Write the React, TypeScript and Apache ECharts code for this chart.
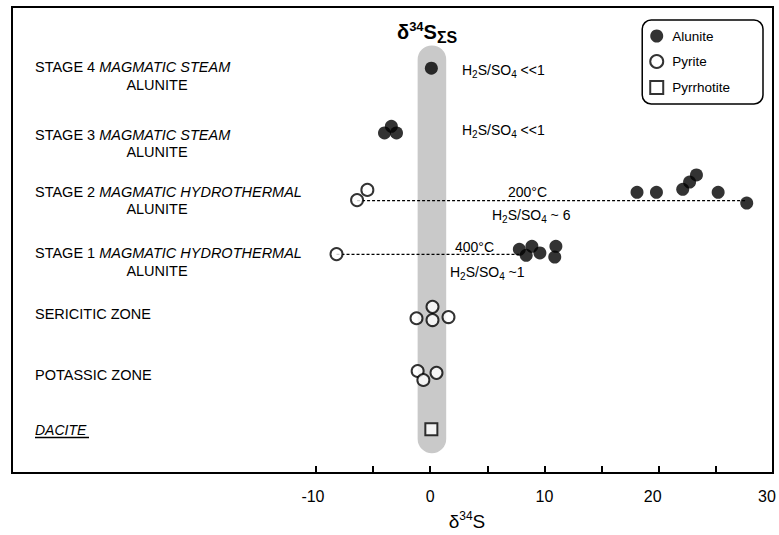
import React, { useEffect, useRef } from 'react';
import * as echarts from 'echarts';

const FONT = '"Liberation Sans", Arial, Helvetica, sans-serif';

// x-axis ticks and labels (δ34S, per mil)
const xTickValues = [-10, -5, 0, 5, 10, 15, 20, 25];
const xLabelValues = [-10, 0, 10, 20, 30];

// y is a row coordinate: each sample row (Dacite bottom ... Stage 4 top) with its small vertical stacking offsets
const alunite: [number, number][] = [
  [0.1, 6.75],
  [-4.0, 5.67], [-3.4, 5.78], [-2.95, 5.67],
  [18.1, 4.68], [19.8, 4.68], [22.1, 4.73], [22.7, 4.85], [23.3, 4.97], [25.2, 4.68], [27.7, 4.5],
  [7.8, 3.73], [8.4, 3.63], [8.9, 3.78], [9.6, 3.67], [11.0, 3.78], [10.9, 3.6],
];
const pyrite: [number, number][] = [
  [-6.4, 4.55], [-5.5, 4.72],
  [-8.2, 3.65],
  [-1.2, 2.58], [0.2, 2.77], [0.2, 2.55], [1.6, 2.6],
  [-1.1, 1.7], [-0.6, 1.55], [0.55, 1.67],
];
const pyrrhotite: [number, number][] = [[0.1, 0.73]];
const tie200: [number, number][] = [[-6.4, 4.54], [27.7, 4.54]];
const tie400: [number, number][] = [[-8.2, 3.645], [7.8, 3.645]];
// δ34S of total sulfur band: [xMin, yMin, xMax, yMax]
const sumSBand: number[][] = [[-1.1, 0.33, 1.4, 7.13]];

const rowLabels = [
  { n: 'STAGE 4 ', i: 'MAGMATIC STEAM', y: 67, sub: 85 },
  { n: 'STAGE 3 ', i: 'MAGMATIC STEAM', y: 135, sub: 152 },
  { n: 'STAGE 2 ', i: 'MAGMATIC HYDROTHERMAL', y: 192, sub: 209 },
  { n: 'STAGE 1 ', i: 'MAGMATIC HYDROTHERMAL', y: 253, sub: 271 },
  { n: 'SERICITIC ZONE', i: '', y: 314, sub: 0 },
  { n: 'POTASSIC ZONE', i: '', y: 375, sub: 0 },
];

const ratioRich = {
  t: { fontSize: 14, fontFamily: FONT, color: '#000', lineHeight: 19, verticalAlign: 'middle' },
  s: { fontSize: 10, fontFamily: FONT, color: '#000', verticalAlign: 'bottom' },
};

function ratioText(x: number, y: number, tail: string) {
  return {
    type: 'text',
    x,
    y,
    style: {
      text: `{t|H}{s|2}{t|S/SO}{s|4}{t|${tail}}`,
      rich: ratioRich,
      verticalAlign: 'middle',
      align: 'left',
      fill: '#000',
    },
  };
}

function plainText(x: number, y: number, text: string, size = 14, align = 'left') {
  return {
    type: 'text',
    x,
    y,
    style: { text, font: `${size}px ${FONT}`, fill: '#000', align, verticalAlign: 'middle' },
  };
}

export default function App() {
  const ref = useRef<HTMLDivElement>(null);

  useEffect(() => {
    if (!ref.current) return;
    const chart = echarts.init(ref.current, null, { renderer: 'svg' });

    const graphics: any[] = [];
    rowLabels.forEach((r) => {
      graphics.push({
        type: 'text',
        x: 35,
        y: r.y,
        style: {
          text: r.i ? `{n|${r.n}}{i|${r.i}}` : `{n|${r.n}}`,
          rich: {
            n: { fontSize: 14.5, fontFamily: FONT, color: '#000' },
            i: { fontSize: 14.5, fontFamily: FONT, fontStyle: 'italic', color: '#000' },
          },
          align: 'left',
          verticalAlign: 'middle',
        },
      });
      if (r.sub) graphics.push(plainText(157, r.sub, 'ALUNITE', 14.5, 'center'));
    });
    graphics.push({
      type: 'text',
      x: 35,
      y: 430,
      style: { text: 'DACITE', font: `italic 14px ${FONT}`, fill: '#000', align: 'left', verticalAlign: 'middle' },
    });
    graphics.push({ type: 'line', shape: { x1: 35, y1: 437.5, x2: 89, y2: 437.5 }, style: { stroke: '#000', lineWidth: 1.5 } });

    graphics.push(ratioText(462, 70, ' <<1'));
    graphics.push(ratioText(462, 130, ' <<1'));
    graphics.push(plainText(508, 192, '200°C'));
    graphics.push(ratioText(492, 215, ' ~ 6'));
    graphics.push(plainText(455, 247, '400°C'));
    graphics.push(ratioText(450, 272, ' ~1'));

    // title δ34SΣS
    graphics.push({
      type: 'text',
      x: 397,
      y: 32,
      style: {
        text: '{b|δ}{p|34}{b|S}{q|ΣS}',
        rich: {
          b: { fontSize: 20, fontWeight: 'bold', fontFamily: FONT, color: '#000', lineHeight: 26, verticalAlign: 'middle' },
          p: { fontSize: 13, fontWeight: 'bold', fontFamily: FONT, color: '#000', verticalAlign: 'top', padding: [1, 0, 0, 0] },
          q: { fontSize: 16, fontWeight: 'bold', fontFamily: FONT, color: '#000', verticalAlign: 'bottom' },
        },
        align: 'left',
        verticalAlign: 'middle',
      },
    });
    // x axis name δ34S
    graphics.push({
      type: 'text',
      x: 467,
      y: 521,
      style: {
        text: '{b|δ}{p|34}{b|S}',
        rich: {
          b: { fontSize: 19, fontFamily: FONT, color: '#000', lineHeight: 24, verticalAlign: 'middle' },
          p: { fontSize: 12, fontFamily: FONT, color: '#000', verticalAlign: 'top', padding: [1, 0, 0, 0] },
        },
        align: 'center',
        verticalAlign: 'middle',
      },
    });

    const symStyleOpen = { color: '#fff', borderColor: '#000', borderWidth: 2 };
    const lblStyle = { fontSize: 16, fontFamily: FONT, color: '#000' };

    chart.setOption({
      animation: false,
      backgroundColor: '#fff',
      grid: {
        left: 12, right: 6, top: 7, bottom: 62,
        show: true, borderColor: '#000', borderWidth: 2, backgroundColor: 'transparent',
        containLabel: false, outerBoundsMode: 'none',
      },
      xAxis: {
        type: 'value',
        min: -36.6,
        max: 30,
        axisLine: { show: true, lineStyle: { color: '#000', width: 2 } },
        axisTick: { show: true, inside: true, length: 7, customValues: xTickValues, lineStyle: { color: '#000', width: 2 } },
        axisLabel: {
          show: true,
          customValues: xLabelValues,
          color: '#000',
          fontSize: 16,
          fontFamily: FONT,
          margin: 15,
          formatter: (v: number) => (v >= 20 ? `{r|${v}}` : v < 0 ? `{m|${v}}` : `${v}`),
          rich: {
            r: { ...lblStyle, padding: [0, 12, 0, 0] },
            m: { ...lblStyle, padding: [0, 6, 0, 0] },
          },
        },
        splitLine: { show: false },
      },
      yAxis: {
        type: 'value',
        min: 0,
        max: 7.77,
        show: false,
        splitLine: { show: false },
      },
      legend: {
        data: ['Alunite', 'Pyrite', 'Pyrrhotite'],
        orient: 'vertical',
        right: 16,
        top: 20,
        borderColor: '#000',
        borderWidth: 1.5,
        borderRadius: 9,
        padding: [9, 33, 9, 7],
        itemGap: 11,
        itemWidth: 13,
        itemHeight: 13,
        textStyle: { color: '#000', fontSize: 13.5, fontFamily: FONT, padding: [0, 0, 0, 4] },
      },
      graphic: graphics,
      series: [
        {
          type: 'custom',
          name: 'band',
          silent: true,
          z: 1,
          data: sumSBand,
          encode: { x: [0, 2], y: [1, 3] },
          renderItem: (params: any, api: any) => {
            const p0 = api.coord([api.value(0), api.value(3)]);
            const p1 = api.coord([api.value(2), api.value(1)]);
            const w = p1[0] - p0[0];
            return {
              type: 'rect',
              shape: { x: p0[0], y: p0[1], width: w, height: p1[1] - p0[1], r: w / 2 },
              style: { fill: '#c9c9c9' },
            };
          },
        },
        {
          type: 'line',
          name: 't200',
          data: tie200,
          symbol: 'none',
          silent: true,
          z: 2,
          lineStyle: { color: '#000', width: 1.3, type: [3, 2] },
        },
        {
          type: 'line',
          name: 't400',
          data: tie400,
          symbol: 'none',
          silent: true,
          z: 2,
          lineStyle: { color: '#000', width: 1.3, type: [3, 2] },
        },
        {
          type: 'scatter',
          name: 'Alunite',
          data: alunite,
          symbol: 'circle',
          symbolSize: 13,
          z: 4,
          itemStyle: { color: '#000' },
        },
        {
          type: 'scatter',
          name: 'Pyrite',
          data: pyrite,
          symbol: 'circle',
          symbolSize: 12,
          z: 4,
          itemStyle: symStyleOpen,
        },
        {
          type: 'scatter',
          name: 'Pyrrhotite',
          data: pyrrhotite,
          symbol: 'rect',
          symbolSize: 12,
          z: 4,
          itemStyle: symStyleOpen,
        },
      ],
    });

    return () => chart.dispose();
  }, []);

  return <div ref={ref} style={{ position: 'fixed', left: 0, top: 0, width: 779, height: 535 }} />;
}
